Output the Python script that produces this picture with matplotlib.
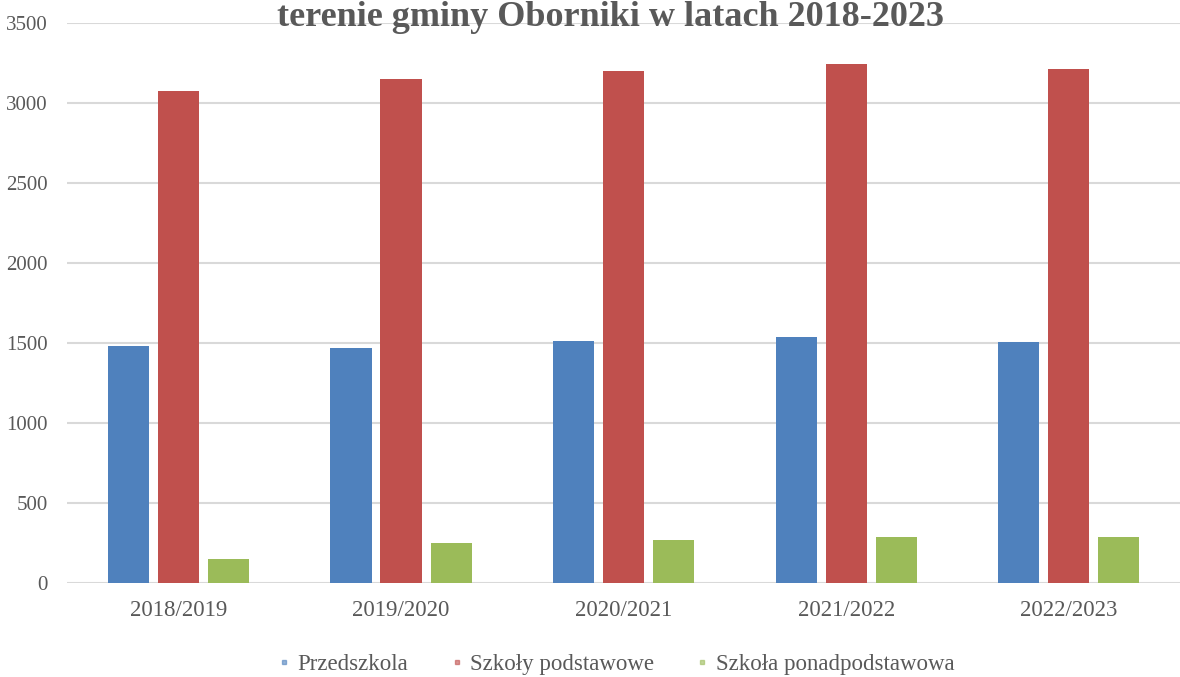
import numpy as np
import matplotlib
matplotlib.use('Agg')
import matplotlib.pyplot as plt
from matplotlib.lines import Line2D

# dane
lata = ["2018/2019", "2019/2020", "2020/2021", "2021/2022", "2022/2023"]
przedszkola = [1480, 1470, 1510, 1535, 1505]
podstawowe = [3075, 3150, 3200, 3245, 3210]
ponadpodstawowe = [150, 250, 270, 285, 285]
serie = ["Przedszkola", "Szkoły podstawowe", "Szkoła ponadpodstawowa"]
kolory = ['#4f81bd', '#c0504d', '#9bbb59']

plt.rcParams['font.family'] = ['Liberation Serif', 'DejaVu Serif']

def main():
    fig = plt.figure(figsize=(11.8, 6.77), dpi=100)
    ax = fig.add_axes([0.057, 0.139, 0.943, 0.827])

    x = np.arange(len(lata))
    w = 0.185
    d = 0.225
    for i, (vals, c) in enumerate(zip([przedszkola, podstawowe, ponadpodstawowe], kolory)):
        ax.bar(x + (i - 1) * d, vals, width=w, color=c, zorder=3)

    ax.set_xlim(-0.5, len(lata) - 0.5)
    ax.set_ylim(0, 3500)
    ax.set_yticks(np.arange(0, 3501, 500))
    ax.set_xticks(x)
    ax.set_xticklabels(lata)
    ax.grid(axis='y', color='#d9d9d9', linewidth=1.5, zorder=0)
    for s in ax.spines.values():
        s.set_visible(False)
    ax.tick_params(axis='both', length=0, labelcolor='#595959')
    ax.tick_params(axis='y', pad=14, labelsize=15)
    ax.tick_params(axis='x', pad=12, labelsize=16.5)

    fig.text(0.517, 0.962, "terenie gminy Oborniki w latach 2018-2023",
             ha='center', va='baseline', fontsize=26, fontweight='bold', color='#595959')

    uchwyty = [Line2D([], [], marker='s', linestyle='None', color=c, markersize=3, alpha=0.6) for c in kolory]
    fig.legend(uchwyty, serie, loc='center', bbox_to_anchor=(0.52, 0.018), ncol=3,
               frameon=False, fontsize=16.5, labelcolor='#595959', handletextpad=0.1,
               columnspacing=1.6, handlelength=1.0)

    fig.savefig("out.png", dpi=100)

if __name__ == "__main__":
    main()
